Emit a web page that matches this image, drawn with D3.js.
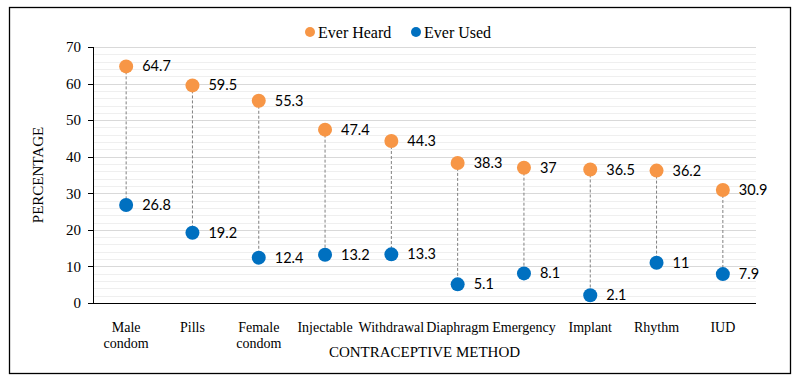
<!DOCTYPE html>
<meta charset="utf-8">
<style>
body { margin: 0; background: #fff; }
text { font-family: "Liberation Serif", "Times New Roman", serif; fill: #000; }
.grid-major line { stroke: #d9d9d9; }
.grid-minor line { stroke: #efefef; }
.axis path, .axis line { stroke: #000; shape-rendering: crispEdges; }
.axis text { font-size: 15px; font-family: "Liberation Serif", serif; }
.val { font-family: Lato, "Liberation Sans", sans-serif; font-size: 14.5px; }
</style>
<div id="chart"></div>
<script src="https://d3js.org/d3.v7.min.js"></script>
<script>
var methods = [["Male", "condom"], ["Pills"], ["Female", "condom"], ["Injectable"], ["Withdrawal"],
  ["Diaphragm"], ["Emergency"], ["Implant"], ["Rhythm"], ["IUD"]];
var everHeard = [64.7, 59.5, 55.3, 47.4, 44.3, 38.3, 37, 36.5, 36.2, 30.9];
var everUsed = [26.8, 19.2, 12.4, 13.2, 13.3, 5.1, 8.1, 2.1, 11, 7.9];
var yTicks = [0, 10, 20, 30, 40, 50, 60, 70];

var w = 799, h = 381,
  padL = 93, padR = 756, padT = 47, padB = 303;

var svg = d3.select("#chart").append("svg")
  .attr("width", w).attr("height", h);

// outer border
svg.append("rect")
  .attr("x", 9.5).attr("y", 7.5)
  .attr("width", 781).attr("height", 366)
  .attr("fill", "#fff").attr("stroke", "#000").attr("stroke-width", 1.3);

var x = d3.scaleBand().domain(d3.range(methods.length)).range([padL, padR]),
  y = d3.scaleLinear().domain([0, 70]).range([padB, padT]);

// minor + major gridlines
svg.append("g").attr("class", "grid-minor")
  .selectAll("line").data(d3.range(2, 70, 2).filter(function (d) { return d % 10 != 0; }))
  .enter().append("line")
  .attr("x1", padL).attr("x2", padR)
  .attr("y1", function (d) { return Math.round(y(d)) + 0.5; })
  .attr("y2", function (d) { return Math.round(y(d)) + 0.5; });

svg.append("g").attr("class", "grid-major")
  .selectAll("line").data(yTicks.slice(1))
  .enter().append("line")
  .attr("x1", padL).attr("x2", padR)
  .attr("y1", function (d) { return Math.round(y(d)) + 0.5; })
  .attr("y2", function (d) { return Math.round(y(d)) + 0.5; });

// y axis
svg.append("g").attr("class", "axis")
  .attr("transform", "translate(" + padL + ",0)")
  .call(d3.axisLeft(y).tickValues(yTicks).tickSize(5).tickPadding(7))
  .attr("font-family", null).attr("font-size", null);

// x axis line
svg.append("line")
  .attr("x1", padL).attr("x2", padR)
  .attr("y1", padB + 0.5).attr("y2", padB + 0.5)
  .attr("stroke", "#000");

// category labels
var cats = svg.append("g").selectAll("text").data(methods).enter().append("text")
  .attr("text-anchor", "middle")
  .style("font-size", "14px")
  .attr("x", function (d, i) { return x(i) + x.bandwidth() / 2; })
  .attr("y", 332);
cats.selectAll("tspan").data(function (d) { return d; }).enter().append("tspan")
  .attr("x", function () { return d3.select(this.parentNode).attr("x"); })
  .attr("dy", function (d, i) { return i ? 16 : 0; })
  .text(function (d) { return d; });

// axis titles
svg.append("text")
  .attr("x", (padL + padR) / 2).attr("y", 357)
  .attr("text-anchor", "middle").style("font-size", "15px")
  .text("CONTRACEPTIVE METHOD");

svg.append("text")
  .attr("transform", "translate(43," + ((padT + padB) / 2) + ") rotate(-90)")
  .attr("text-anchor", "middle").style("font-size", "15px")
  .text("PERCENTAGE");

// dashed connectors
var cx = function (d, i) { return x(i) + x.bandwidth() / 2; };
svg.append("g").selectAll("line").data(everHeard).enter().append("line")
  .attr("x1", cx).attr("x2", cx)
  .attr("y1", function (d) { return y(d); })
  .attr("y2", function (d, i) { return y(everUsed[i]); })
  .attr("stroke", "#808080").attr("stroke-dasharray", "3,2");

function series(data, color) {
  var g = svg.append("g");
  g.selectAll("circle").data(data).enter().append("circle")
    .attr("cx", cx).attr("cy", function (d) { return y(d); })
    .attr("r", 7).attr("fill", color);
  g.selectAll("text").data(data).enter().append("text")
    .attr("class", "val")
    .attr("x", function (d, i) { return cx(d, i) + 16; })
    .attr("y", function (d) { return y(d); })
    .attr("dy", "0.35em")
    .text(function (d) { return d; });
}
series(everHeard, "#f79646");
series(everUsed, "#0070c0");

// legend
var legend = [["Ever Heard", "#f79646", 310], ["Ever Used", "#0070c0", 416]];
legend.forEach(function (l) {
  svg.append("circle").attr("cx", l[2]).attr("cy", 32).attr("r", 5).attr("fill", l[1]);
  svg.append("text").attr("x", l[2] + 8).attr("y", 32).attr("dy", "0.35em")
    .style("font-size", "16px").text(l[0]);
});
</script>
